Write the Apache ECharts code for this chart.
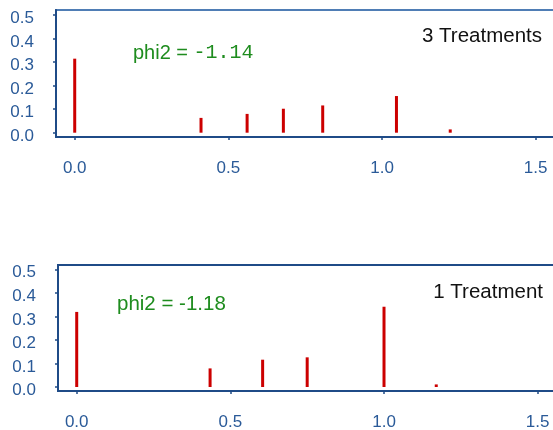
<!DOCTYPE html>
<html>
<head>
<meta charset="utf-8">
<script src="https://cdn.jsdelivr.net/npm/echarts@6/dist/echarts.min.js"></script>
<style>
  html, body { margin: 0; padding: 0; background: #fff; }
  #chart { width: 553px; height: 430px; }
</style>
</head>
<body>
<div id="chart"></div>
<script>
// top panel: 3 treatments
var topX = [0, 0.411, 0.561, 0.679, 0.807, 1.047, 1.222]
var topY = [0.315, 0.063, 0.08, 0.102, 0.116, 0.156, 0.014]
// bottom panel: 1 treatment
var botX = [0, 0.434, 0.605, 0.75, 1.0, 1.17]
var botY = [0.319, 0.079, 0.116, 0.126, 0.341, 0.011]

var xTicks = [0, 0.5, 1.0, 1.5]
var yTicks = [0, 0.1, 0.2, 0.3, 0.4, 0.5]
var topLabel = '3 Treatments'
var botLabel = '1 Treatment'
var topPhi = ['phi2 = ', '-1.14']
var botPhi = 'phi2 = -1.18'

var axisColor = '#1f4b87'
var labelColor = '#2a5a98'
var barColor = '#cc0000'
var green = '#1e8c1e'

function pairs(xs, ys) {
  return xs.map(function (x, i) { return [x, ys[i]] })
}

function xAxisFor(gridIndex, min, max) {
  return {
    type: 'value',
    gridIndex: gridIndex,
    min: min,
    max: max,
    splitLine: { show: false },
    axisLine: { show: true, onZero: false, lineStyle: { color: axisColor, width: 2 } },
    axisTick: { show: true, length: 3, customValues: xTicks, lineStyle: { color: axisColor, width: 1.5 } },
    axisLabel: {
      customValues: xTicks,
      margin: 23,
      color: labelColor,
      fontSize: 17,
      fontFamily: 'Liberation Sans',
      formatter: function (v) { return v.toFixed(1) }
    }
  }
}

function yAxisFor(gridIndex, min, max) {
  return {
    type: 'value',
    gridIndex: gridIndex,
    min: min,
    max: max,
    splitLine: { show: false },
    axisLine: { show: true, onZero: false, lineStyle: { color: axisColor, width: 2 } },
    axisTick: { show: true, length: 3, customValues: yTicks, lineStyle: { color: axisColor, width: 1.5 } },
    axisLabel: {
      customValues: yTicks,
      margin: 22,
      color: labelColor,
      fontSize: 17,
      fontFamily: 'Liberation Sans',
      // blank spacer line pushes the label a few px below its tick
      formatter: function (v) { return '{s| }\n{v|' + v.toFixed(1) + '}' },
      rich: {
        s: { fontSize: 6, lineHeight: 7 },
        v: { fontSize: 17, lineHeight: 17, color: labelColor, fontFamily: 'Liberation Sans' }
      }
    }
  }
}

var chart = echarts.init(document.getElementById('chart'))
chart.setOption({
  animation: false,
  grid: [
    { left: 56, top: 10, width: 517, height: 127, outerBoundsMode: 'none', show: true, borderColor: '#4f7db5', borderWidth: 2 },
    { left: 58, top: 265, width: 517, height: 126, outerBoundsMode: 'none', show: true, borderColor: axisColor, borderWidth: 2 }
  ],
  xAxis: [
    xAxisFor(0, -0.0609, 1.6215),
    xAxisFor(1, -0.0609, 1.6215)
  ],
  yAxis: [
    yAxisFor(0, -0.0183, 0.5221),
    yAxisFor(1, -0.017, 0.5183)
  ],
  series: [
    {
      type: 'bar',
      xAxisIndex: 0,
      yAxisIndex: 0,
      barWidth: 3,
      itemStyle: { color: barColor },
      data: pairs(topX, topY)
    },
    {
      type: 'bar',
      xAxisIndex: 1,
      yAxisIndex: 1,
      barWidth: 3,
      itemStyle: { color: barColor },
      data: pairs(botX, botY)
    }
  ],
  graphic: [
    {
      type: 'text',
      left: 133,
      top: 43,
      style: {
        text: '{a|' + topPhi[0] + '}{b|' + topPhi[1] + '}',
        rich: {
          a: { fontSize: 20, fontFamily: 'Liberation Sans', fill: green, color: green },
          b: { fontSize: 20, fontFamily: 'Liberation Mono', fill: green, color: green }
        }
      }
    },
    {
      type: 'text',
      right: 11,
      top: 26,
      style: { text: topLabel, fontSize: 20.5, fontFamily: 'Liberation Sans', fill: '#111' }
    },
    {
      type: 'text',
      left: 117,
      top: 294,
      style: { text: botPhi, fontSize: 20.5, fontFamily: 'Liberation Sans', fill: green }
    },
    {
      type: 'text',
      right: 10,
      top: 282,
      style: { text: botLabel, fontSize: 20.5, fontFamily: 'Liberation Sans', fill: '#111' }
    }
  ]
})
</script>
</body>
</html>
